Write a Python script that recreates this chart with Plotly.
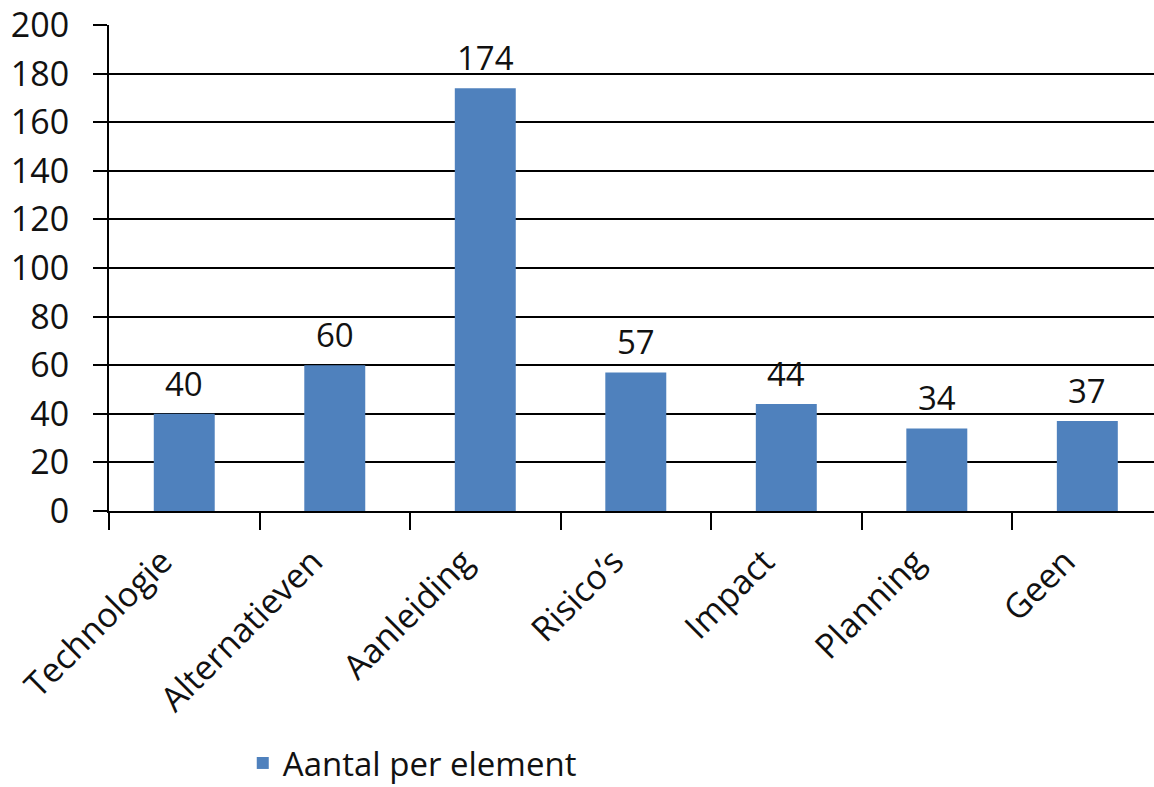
import plotly.graph_objects as go

categories = ["Technologie", "Alternatieven", "Aanleiding", "Risico’s", "Impact", "Planning", "Geen"]
values = [40, 60, 174, 57, 44, 34, 37]
series_name = "Aantal per element"
y_ticks = [0, 20, 40, 60, 80, 100, 120, 140, 160, 180, 200]

FONT = "Open Sans"
BLUE = "#4F81BD"
TXT = "#111111"

fig = go.Figure()
fig.add_trace(go.Bar(
    x=categories, y=values, name=series_name,
    marker=dict(color=BLUE, line=dict(width=0)),
    showlegend=True,
))

for c, v in zip(categories, values):
    fig.add_annotation(x=c, y=v, text=str(v), showarrow=False,
                       yanchor="bottom", yshift=6,
                       font=dict(family=FONT, size=33, color=TXT))

fig.update_layout(
    width=1154, height=787,
    margin=dict(l=109, r=0, t=25, b=276),
    paper_bgcolor="white", plot_bgcolor="white",
    bargap=0.595,
    font=dict(family=FONT, size=33, color=TXT),
    showlegend=True,
    legend=dict(orientation="h", x=0.128, xanchor="left",
                yref="container", y=(787 - 735) / 787, yanchor="top",
                font=dict(family=FONT, size=33, color=TXT),
                itemwidth=30),
)
fig.update_xaxes(
    range=[-0.5, 6.443],
    showline=True, linecolor="black", linewidth=2,
    ticks="outside", ticklen=17, tickwidth=2, tickcolor="black",
    tickson="boundaries", tickangle=-45,
    ticklabelshift=-22, ticklabelstandoff=15,
    showgrid=False, zeroline=False,
    tickfont=dict(family=FONT, size=34, color=TXT),
)
fig.update_yaxes(
    range=[0, 200], tickvals=y_ticks,
    showline=True, linecolor="black", linewidth=2,
    ticks="outside", ticklen=14, tickwidth=2, tickcolor="black",
    showgrid=True, gridcolor="black", gridwidth=2,
    zeroline=False, ticklabelstandoff=17,
    tickfont=dict(family=FONT, size=34, color=TXT),
)

fig.write_html("out.html")
